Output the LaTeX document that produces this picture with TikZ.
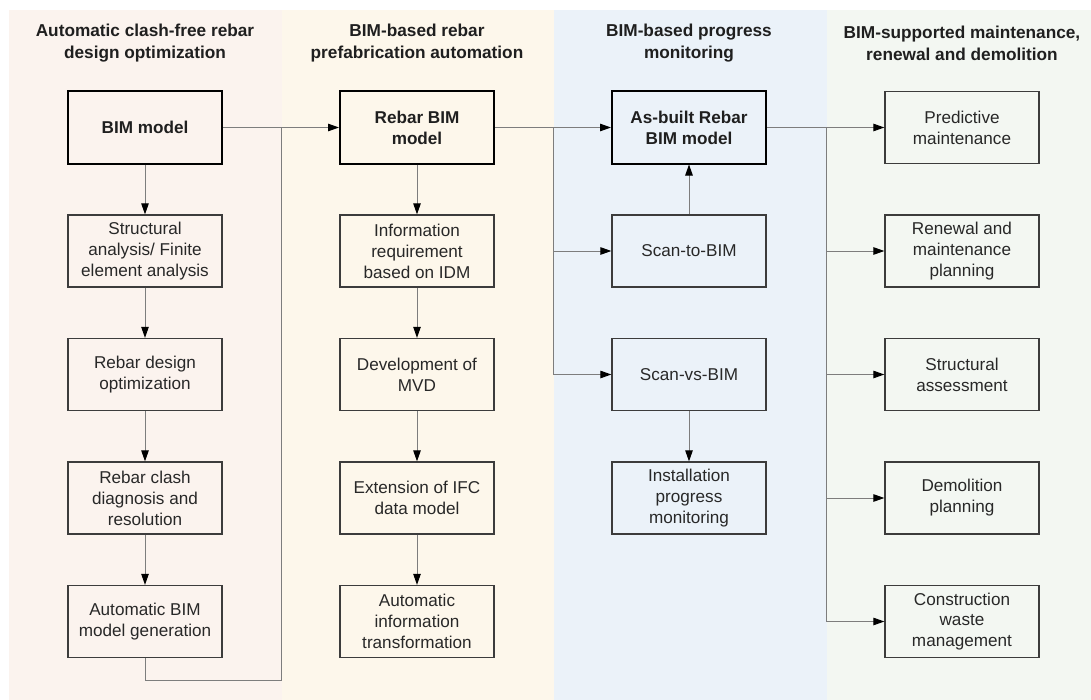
\documentclass[tikz,border=0pt]{standalone}
\usepackage{fontspec}
\setmainfont{Liberation Sans}
\usetikzlibrary{arrows.meta}

\definecolor{panelA}{RGB}{251,243,238}
\definecolor{panelB}{RGB}{253,247,235}
\definecolor{panelC}{RGB}{235,242,249}
\definecolor{panelD}{RGB}{243,247,242}
\definecolor{wirecol}{RGB}{125,125,125}
\definecolor{ink}{RGB}{40,40,40}
\definecolor{framecol}{RGB}{60,60,60}

\tikzset{
  stagebox/.style={draw=framecol, line width=1.3bp, minimum width=154bp,
    minimum height=72bp, inner sep=0pt, align=center, text=ink,
    font=\fontsize{17.2}{21}\selectfont},
  keybox/.style={stagebox, draw=black, line width=2bp, text=black!88,
    font=\fontsize{17.2}{21}\selectfont\bfseries},
  heading/.style={align=center, inner sep=0pt, text=black!88,
    font=\fontsize{17.3}{22}\selectfont\bfseries},
  wire/.style={draw=wirecol, line width=1bp},
  flow/.style={wire, -{Triangle[length=11bp,width=7.5bp,color=black]}},
}

\begin{document}
\begin{tikzpicture}[x=1bp,y=-1bp]
\useasboundingbox (0,0) rectangle (1091,700);

% phase panels
\fill[panelA] (9,10) rectangle (282,700);
\fill[panelB] (282,10) rectangle (554,700);
\fill[panelC] (554,10) rectangle (827,700);
\fill[panelD] (827,10) rectangle (1091,700);

% phase headings
\node[heading] (h1) at (145,43) {Automatic clash-free rebar\\design optimization};
\node[heading] (h2) at (417,43) {BIM-based rebar\\prefabrication automation};
\node[heading] (h3) at (689,43) {BIM-based progress\\monitoring};
\node[heading] (h4) at (962,43) {BIM-supported maintenance,\\renewal and demolition};

% design optimization
\node[keybox]   (bim)  at (145,127.5) {BIM model};
\node[stagebox] (fea)  at (145,251)   {Structural\\analysis/ Finite\\element analysis};
\node[stagebox] (opt)  at (145,374.5) {Rebar design\\optimization};
\node[stagebox] (clash) at (145,498)  {Rebar clash\\diagnosis and\\resolution};
\node[stagebox] (gen)  at (145,621.5) {Automatic BIM\\model generation};

% prefabrication automation
\node[keybox]   (rebar) at (417,127.5) {Rebar BIM\\model};
\node[stagebox] (idm)  at (417,251)   {Information\\requirement\\based on IDM};
\node[stagebox] (mvd)  at (417,374.5) {Development of\\MVD};
\node[stagebox] (ifc)  at (417,498)   {Extension of IFC\\data model};
\node[stagebox] (trans) at (417,621.5) {Automatic\\information\\transformation};

% progress monitoring
\node[keybox]   (asb)  at (689,127.5) {As-built Rebar\\BIM model};
\node[stagebox] (stb)  at (689,251)   {Scan-to-BIM};
\node[stagebox] (svb)  at (689,374.5) {Scan-vs-BIM};
\node[stagebox] (inst) at (689,498)   {Installation\\progress\\monitoring};

% maintenance, renewal and demolition
\node[stagebox] (pred) at (962,127.5) {Predictive\\maintenance};
\node[stagebox] (renew) at (962,251)  {Renewal and\\maintenance\\planning};
\node[stagebox] (assess) at (962,374.5) {Structural\\assessment};
\node[stagebox] (demo) at (962,498)   {Demolition\\planning};
\node[stagebox] (waste) at (962,621.5) {Construction\\waste\\management};

% junctions of the branching connectors
\coordinate (j1) at (281,127.5);
\coordinate (j2) at (553,127.5);
\coordinate (j3) at (826,127.5);

% column 1 chain and feedback loop
\draw[flow] (bim) -- (fea);
\draw[flow] (fea) -- (opt);
\draw[flow] (opt) -- (clash);
\draw[flow] (clash) -- (gen);
\draw[wire] (gen.south) -- ++(0,22) -| (j1);
\draw[flow] (bim.east) -- (rebar.west);

% column 2 chain
\draw[flow] (rebar) -- (idm);
\draw[flow] (idm) -- (mvd);
\draw[flow] (mvd) -- (ifc);
\draw[flow] (ifc) -- (trans);

% column 3 branches
\draw[flow] (rebar.east) -- (asb.west);
\draw[wire] (j2) -- (j2 |- svb.west);
\draw[flow] (j2 |- stb.west) -- (stb.west);
\draw[flow] (j2 |- svb.west) -- (svb.west);
\draw[flow] (stb) -- (asb);
\draw[flow] (svb) -- (inst);

% column 4 branches
\draw[flow] (asb.east) -- (pred.west);
\draw[wire] (j3) -- (j3 |- waste.west);
\draw[flow] (j3 |- renew.west) -- (renew.west);
\draw[flow] (j3 |- assess.west) -- (assess.west);
\draw[flow] (j3 |- demo.west) -- (demo.west);
\draw[flow] (j3 |- waste.west) -- (waste.west);
\end{tikzpicture}
\end{document}
